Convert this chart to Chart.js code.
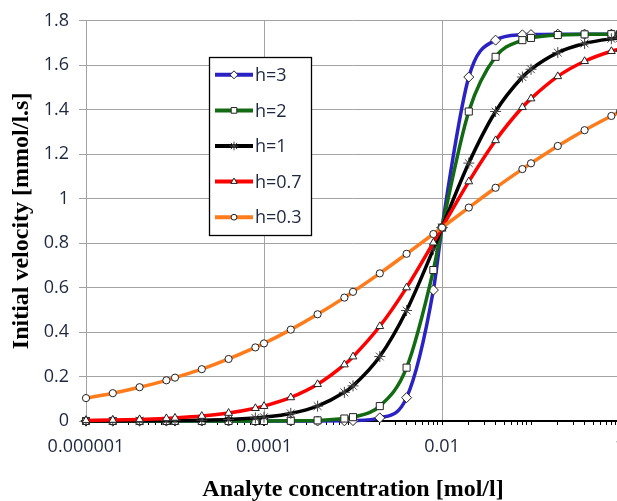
<!DOCTYPE html>
<html><head><meta charset="utf-8">
<script src="https://cdn.jsdelivr.net/npm/chart.js@4/dist/chart.umd.min.js"></script>
<style>
html,body{margin:0;padding:0;overflow:hidden;background:#fff;width:617px;height:501px}
#wrap{position:relative;width:640px;height:501px}
</style>
</head><body><div id="wrap"><canvas id="c"></canvas></div>
<script>
// ---- data ----
const concentrations = [0.000001, 0.000002, 0.000004, 0.000008, 0.00001, 0.00002, 0.00004, 0.00008,
  0.0001, 0.0002, 0.0004, 0.0008, 0.001, 0.002, 0.004, 0.008, 0.01, 0.02, 0.04, 0.08, 0.1, 0.2, 0.4, 0.8, 1];
const seriesLabels = ['h=3', 'h=2', 'h=1', 'h=0.7', 'h=0.3'];
const velH3  = [0, 0, 0, 0, 0, 0, 0, 0, 0, 0, 0.0001, 0.0009, 0.0017, 0.014, 0.105, 0.589, 0.87, 1.547, 1.713, 1.737, 1.738, 1.740, 1.740, 1.740, 1.740];
const velH2  = [0, 0, 0, 0, 0, 0.00001, 0.00003, 0.0001, 0.0002, 0.0007, 0.0028, 0.0111, 0.0172, 0.067, 0.240, 0.679, 0.87, 1.392, 1.638, 1.713, 1.723, 1.736, 1.739, 1.740, 1.740];
const velH1  = [0.0002, 0.0003, 0.0007, 0.0014, 0.0017, 0.0035, 0.0069, 0.0138, 0.0172, 0.0341, 0.0669, 0.1289, 0.158, 0.290, 0.497, 0.773, 0.87, 1.16, 1.392, 1.547, 1.582, 1.657, 1.698, 1.719, 1.723];
const velH07 = [0.0028, 0.0045, 0.0073, 0.0117, 0.0137, 0.0222, 0.0357, 0.0572, 0.0666, 0.1058, 0.1652, 0.2536, 0.2894, 0.426, 0.600, 0.802, 0.87, 1.077, 1.262, 1.411, 1.450, 1.550, 1.618, 1.663, 1.673];
const velH03 = [0.103, 0.125, 0.152, 0.183, 0.195, 0.233, 0.279, 0.331, 0.349, 0.411, 0.480, 0.555, 0.581, 0.664, 0.752, 0.841, 0.87, 0.960, 1.049, 1.133, 1.159, 1.237, 1.308, 1.372, 1.391];
const xLabelTicks = [0.000001, 0.0001, 0.01, 1];
const xLabelTexts = ['0.000001', '0.0001', '0.01', '1'];
const yMin = 0, yMax = 1.8, yStep = 0.2;

// ---- styles ----
const colors = ['#2B22C6', '#126B12', '#000000', '#FF0000', '#FF7B1C'];
const pointStyles = ['rectRot', 'rect', 'star', 'triangle', 'circle'];
const pointRadii = [5, 5, 5.5, 4.5, 3.6];
const seriesValues = [velH3, velH2, velH1, velH07, velH03];
const textColor = '#1E2740';
const gridGray = '#A3A3A3';

// minor tick positions for the log axis (axis decoration)
const xAllTicks = [];
for (let e = -6; e < 0; e++) for (let k = 1; k <= 9; k++) xAllTicks.push(k * Math.pow(10, e));
xAllTicks.push(1);
function labelIndex(v) {
  return xLabelTicks.findIndex(t => Math.abs(Math.log10(t) - Math.log10(v)) < 1e-6);
}

const datasets = seriesLabels.map((lab, i) => ({
  label: lab,
  data: concentrations.map((x, j) => ({ x: x, y: seriesValues[i][j] })),
  borderColor: colors[i],
  backgroundColor: colors[i],
  borderWidth: 3.5,
  cubicInterpolationMode: 'monotone',
  pointStyle: pointStyles[i],
  pointRadius: pointRadii[i],
  pointBackgroundColor: '#ffffff',
  pointBorderColor: i === 2 ? '#444' : '#222',
  pointBorderWidth: 1,
  order: 5 - i,
  clip: false
}));

function drawMarker(ctx, style, r, x, y) {
  if (Chart.helpers && Chart.helpers.drawPoint) {
    Chart.helpers.drawPoint(ctx, { pointStyle: style, radius: r, borderWidth: 1, rotation: 0 }, x, y);
  }
}

const legendBox = {
  id: 'legendBox',
  afterDraw(chart) {
    const ctx = chart.ctx;
    const L = 209, T = 57, R = 311, B = 235;
    ctx.save();
    ctx.fillStyle = '#fff';
    ctx.fillRect(L, T, R - L, B - T);
    ctx.strokeStyle = '#000';
    ctx.lineWidth = 1.3;
    ctx.strokeRect(L + 0.5, T + 0.5, R - L, B - T);
    const rowGap = (B - T) / seriesLabels.length;
    seriesLabels.forEach((lab, i) => {
      const y = T + rowGap * (i + 0.5);
      ctx.strokeStyle = colors[i];
      ctx.lineWidth = 4;
      ctx.beginPath();
      ctx.moveTo(L + 6, y);
      ctx.lineTo(L + 44, y);
      ctx.stroke();
      ctx.fillStyle = '#fff';
      ctx.strokeStyle = i === 2 ? '#444' : '#222';
      ctx.lineWidth = 1;
      drawMarker(ctx, pointStyles[i], pointRadii[i] * 0.8, L + 25, y);
      ctx.fillStyle = textColor;
      ctx.font = '18px "Open Sans"';
      ctx.textBaseline = 'middle';
      ctx.textAlign = 'left';
      ctx.fillText(lab, L + 46, y + 1);
    });
    ctx.restore();
  }
};

new Chart(document.getElementById('c'), {
  type: 'line',
  data: { datasets: datasets },
  options: {
    responsive: true,
    maintainAspectRatio: false,
    animation: false,
    devicePixelRatio: 1,
    layout: { padding: { top: 19, right: 20, left: 0, bottom: 0 } },
    plugins: { legend: { display: false }, tooltip: { enabled: false } },
    scales: {
      x: {
        type: 'logarithmic',
        min: 0.000001,
        max: 1,
        afterBuildTicks(scale) { scale.ticks = xAllTicks.map(v => ({ value: v })); },
        afterFit(scale) { scale.height = 80; },
        ticks: {
          autoSkip: false, maxRotation: 0, minRotation: 0,
          color: textColor, font: { family: 'Open Sans', size: 18 }, padding: 11,
          callback(v) { const i = labelIndex(v); return i >= 0 ? xLabelTexts[i] : ''; }
        },
        grid: {
          color: (c) => (c.tick && labelIndex(c.tick.value) >= 0) ? gridGray : 'rgba(0,0,0,0)',
          tickColor: '#000', tickLength: 4, lineWidth: 1
        },
        border: { color: '#000', width: 2 },
        title: {
          display: true, text: 'Analyte concentration [mol/l]', color: '#000',
          font: { family: 'Liberation Serif', weight: 'bold', size: 24 },
          padding: { top: 0, bottom: -3 }
        }
      },
      y: {
        min: yMin, max: yMax,
        afterFit(scale) { scale.width = 86; },
        ticks: {
          stepSize: yStep, color: textColor, font: { family: 'Open Sans', size: 18 }, padding: 10,
          callback(v) { return String(Math.round(v * 10) / 10); }
        },
        grid: { color: gridGray, tickLength: 7, lineWidth: 1 },
        border: { color: gridGray, width: 1 },
        title: {
          display: true, text: 'Initial velocity [mmol/l.s]', color: '#000',
          font: { family: 'Liberation Serif', weight: 'bold', size: 24 },
          padding: { top: 7, bottom: 0 }
        }
      }
    }
  },
  plugins: [legendBox]
});
</script>
</body></html>
